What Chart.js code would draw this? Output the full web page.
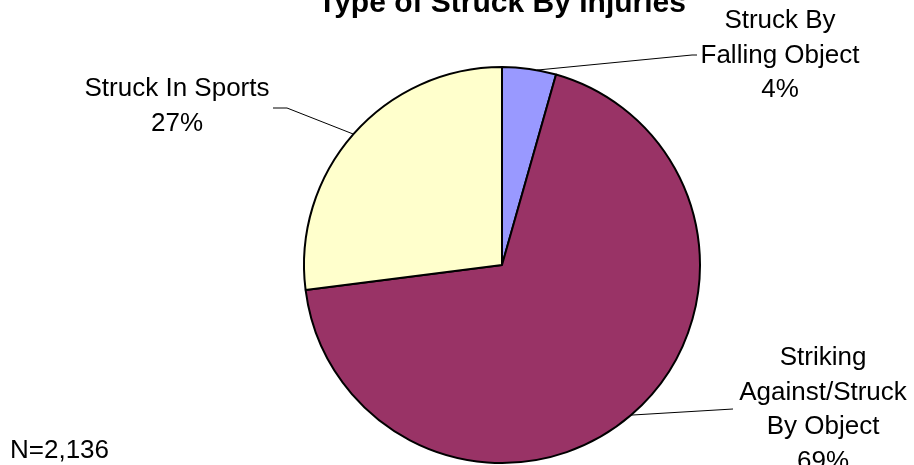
<!DOCTYPE html>
<html>
<head>
<meta charset="utf-8">
<script src="https://cdn.jsdelivr.net/npm/chart.js@4"></script>
<style>
  html, body { margin: 0; padding: 0; background: #fff; }
</style>
</head>
<body>
<canvas id="pie" width="914" height="465"></canvas>
<script>
// data (counts add to N=2,136)
const categories = ["Struck By Falling Object", "Striking Against/Struck By Object", "Struck In Sports"];
const counts = [94, 1465, 577];
const sliceColors = ["#9999FF", "#993366", "#FFFFCC"];
const labelLines = [
  ["Struck By", "Falling Object"],
  ["Striking", "Against/Struck", "By Object"],
  ["Struck In Sports"]
];
const chartTitle = "Type of Struck By Injuries";
const noteText = "N=2,136";

// where each label sits and where its leader line bends
const labelSpots = [
  { x: 780, y: 28, elbowX: 692, elbowY: 55, endX: 697, frac: 0.64 },
  { x: 823, y: 365, elbowX: 733, elbowY: 409, endX: 733, frac: 0.5 },
  { x: 177, y: 96, elbowX: 287, elbowY: 108, endX: 273, frac: 0.5 }
];

const FONT = "'Liberation Sans', Arial, sans-serif";

const labelPlugin = {
  id: "pieLabels",
  afterDatasetsDraw(chart) {
    const ctx = chart.ctx;
    const arcs = chart.getDatasetMeta(0).data;
    const total = counts.reduce((a, b) => a + b, 0);
    ctx.save();

    // leader lines
    ctx.strokeStyle = "#000";
    ctx.lineWidth = 1;
    arcs.forEach(function (arc, i) {
      const s = labelSpots[i];
      const p = arc.getProps(["x", "y", "startAngle", "endAngle", "outerRadius"], true);
      const a = p.startAngle + s.frac * (p.endAngle - p.startAngle);
      const ax = p.x + Math.cos(a) * p.outerRadius;
      const ay = p.y + Math.sin(a) * p.outerRadius;
      ctx.beginPath();
      ctx.moveTo(ax, ay);
      ctx.lineTo(s.elbowX, s.elbowY);
      ctx.lineTo(s.endX, s.elbowY);
      ctx.stroke();
    });

    // label text
    ctx.fillStyle = "#000";
    ctx.font = "26px " + FONT;
    ctx.textAlign = "center";
    ctx.textBaseline = "alphabetic";
    arcs.forEach(function (arc, i) {
      const s = labelSpots[i];
      const lines = labelLines[i].concat([Math.round(counts[i] / total * 100) + "%"]);
      lines.forEach(function (t, k) {
        ctx.fillText(t, s.x, s.y + k * 34.5);
      });
    });

    // N note
    ctx.textAlign = "left";
    ctx.fillText(noteText, 10, 458);

    // title
    ctx.font = "bold 30px " + FONT;
    ctx.textAlign = "center";
    ctx.fillText(chartTitle, 502, 12);
    ctx.restore();
  }
};

new Chart(document.getElementById("pie").getContext("2d"), {
  type: "pie",
  data: {
    labels: categories,
    datasets: [
      {
        data: counts,
        backgroundColor: sliceColors,
        borderColor: "#000",
        borderWidth: 2,
        clip: false
      }
    ]
  },
  options: {
    responsive: false,
    animation: false,
    radius: 198,
    layout: { padding: { left: 90, right: 0, top: 65, bottom: 0 } },
    plugins: {
      legend: { display: false },
      tooltip: { enabled: false },
      title: { display: false }
    }
  },
  plugins: [labelPlugin]
});
</script>
</body>
</html>
